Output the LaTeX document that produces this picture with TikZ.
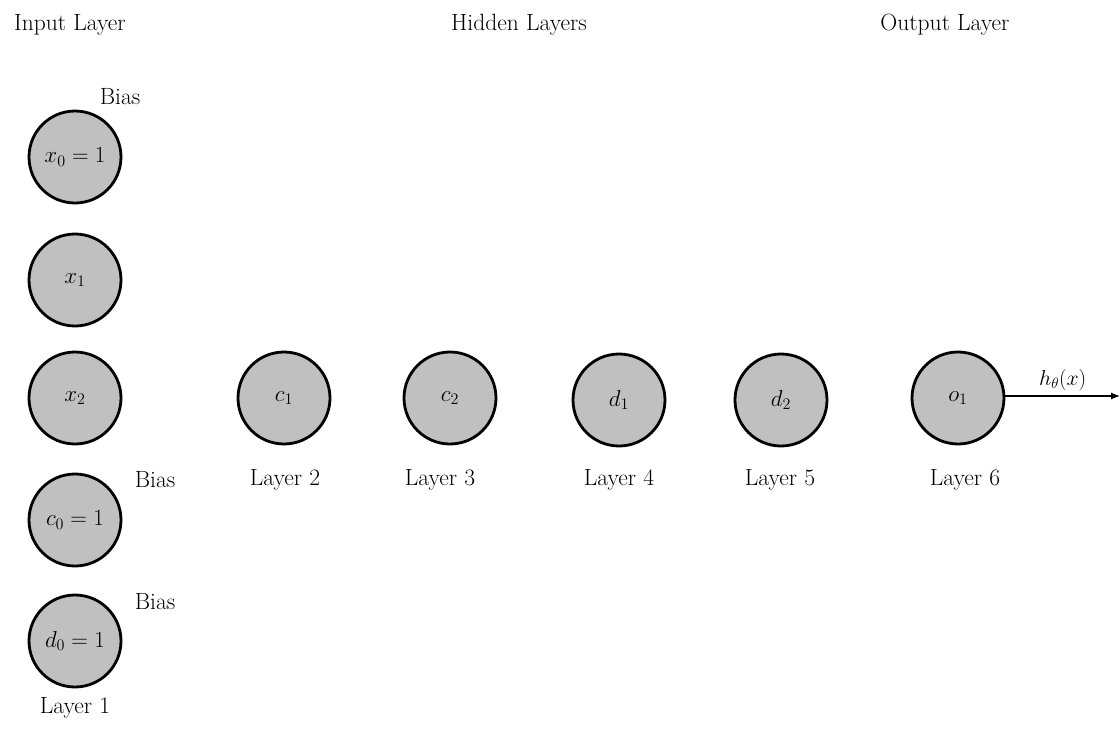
\RequirePackage{fix-cm}
\documentclass[tikz,border=0pt]{standalone}
\usepackage{fontspec}
\usetikzlibrary{arrows.meta}
\begin{document}
\begin{tikzpicture}[x=1pt,y=-1pt,
  neuron/.style={circle,draw=black,line width=2.8pt,fill={rgb,255:red,192;green,192;blue,192},minimum size=92pt,inner sep=0pt,font=\fontsize{23}{27}\selectfont},
  lbl/.style={font=\fontsize{23.5}{28}\selectfont,inner sep=0pt},
  small/.style={font=\fontsize{21.5}{26}\selectfont,inner sep=0pt}]
\useasboundingbox (0,0) rectangle (1120,747);
\node[lbl] (tin) at (70,25) {Input Layer};
\node[lbl] (thid) at (519,25) {Hidden Layers};
\node[lbl] (tout) at (945,25) {Output Layer};
\node[neuron] (x0) at (75,157) {$x_0=1$};
\node[neuron] (x1) at (75,280) {$x_1$};
\node[neuron] (x2) at (75,398) {$x_2$};
\node[neuron] (c0) at (75,520) {$c_0=1$};
\node[neuron] (d0) at (75,641) {$d_0=1$};
\node[neuron] (c1) at (284,398) {$c_1$};
\node[neuron] (c2) at (450,398) {$c_2$};
\node[neuron] (d1) at (619,400) {$d_1$};
\node[neuron] (d2) at (781,400) {$d_2$};
\node[neuron] (o1) at (958,398) {$o_1$};
\node[lbl] (b1) at (120,97) {Bias};
\node[lbl] (b2) at (155,480) {Bias};
\node[lbl] (b3) at (155,602) {Bias};
\node[lbl] (l1) at (75,708) {Layer 1};
\node[lbl] (l2) at (285,480) {Layer 2};
\node[lbl] (l3) at (440,480) {Layer 3};
\node[lbl] (l4) at (619,480) {Layer 4};
\node[lbl] (l5) at (780,480) {Layer 5};
\node[lbl] (l6) at (965,480) {Layer 6};
\coordinate (out) at (1120,396);
\draw[line width=1.2pt,-{Latex[length=9pt,width=7pt]}] (o1.east |- out) -- (out)
  node[small,pos=0.5,above=5pt] (h) {$h_\theta(x)$};
\end{tikzpicture}
\end{document}
